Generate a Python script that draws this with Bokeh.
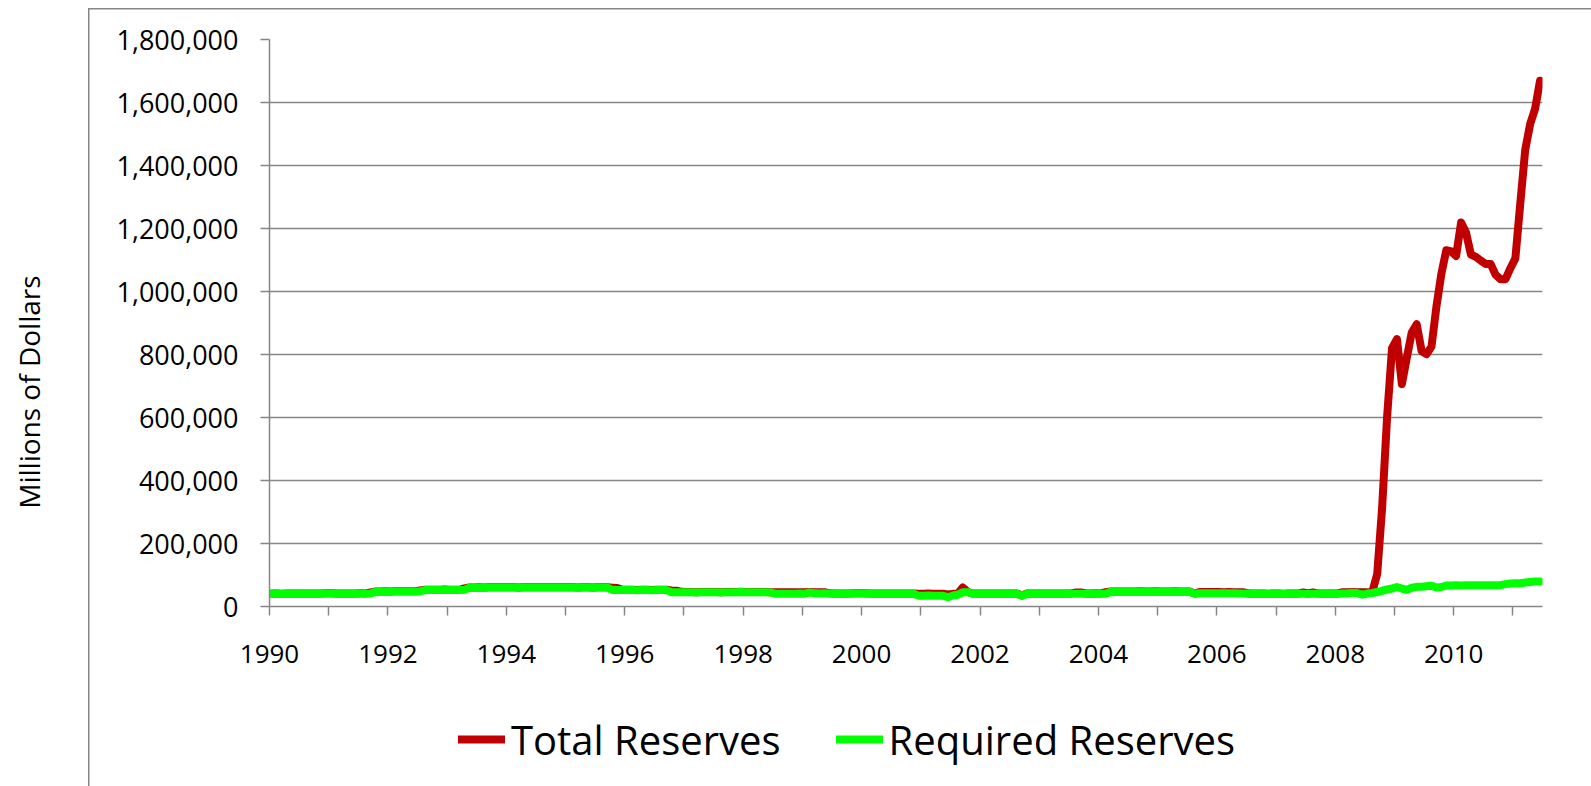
from bokeh.plotting import figure
from bokeh.layouts import column
from bokeh.models import Range1d, FixedTicker, NumeralTickFormatter, Legend, LegendItem
from bokeh.embed import file_html
from bokeh.resources import INLINE

# ---------------- data (millions of dollars, monthly Jan 1990 - Jun 2011) ----------------
start_year = 1990
tick_years = list(range(1990, 2012))
labeled_years = list(range(1990, 2011, 2))
y_ticks = [0, 200000, 400000, 600000, 800000, 1000000, 1200000, 1400000, 1600000, 1800000]
series_names = ["Total Reserves", "Required Reserves"]
series_colors = ["#C00000", "#00FF00"]
y_axis_title = "Millions of Dollars"

total_reserves = [
    41000, 41100, 40800, 41000, 40900, 41200, 41100, 40900, 41300, 41400, 41600, 42000,  # 1990
    41700, 41300, 41100, 41400, 41200, 41600, 41700, 41500, 45000, 47700, 48000, 48200,  # 1991
    48000, 48300, 48100, 48500, 48200, 48600, 51000, 52900, 53100, 52800, 53300, 53600,  # 1992
    53200, 53400, 53100, 57500, 60400, 60700, 60900, 60600, 61000, 61200, 60900, 61500,  # 1993
    61100, 60800, 60600, 61200, 61000, 60800, 61300, 61100, 60900, 61200, 61000, 61600,  # 1994
    61300, 60900, 60700, 61100, 61000, 60600, 60900, 61100, 60800, 59600, 58600, 53400,  # 1995
    53100, 52800, 52500, 53000, 52800, 52600, 52800, 53100, 52900, 51000, 50200, 46500,  # 1996
    46100, 45800, 45600, 46000, 45800, 46200, 45900, 45600, 46000, 46100, 45800, 46500,  # 1997
    46000, 45700, 45900, 46100, 45800, 45500, 45300, 45100, 45000, 45300, 45100, 45500,  # 1998
    45200, 46000, 45600, 45400, 45300, 41700, 41400, 41600, 41300, 41500, 41700, 42200,  # 1999
    41700, 41400, 41200, 41500, 41300, 41100, 41400, 41600, 41300, 41200, 41400, 40800,  # 2000
    40600, 40900, 40500, 40800, 40400, 38000, 40200, 40300, 60000, 46500, 41300, 41100,  # 2001
    41200, 41000, 41400, 41100, 41300, 40900, 41200, 41000, 34800, 41100, 41400, 41200,  # 2002
    41300, 41000, 41200, 41500, 41100, 41400, 41600, 44800, 44500, 41200, 41400, 41700,  # 2003
    41500, 45500, 47600, 47900, 47700, 48000, 47800, 47600, 48100, 47900, 47700, 48200,  # 2004
    47900, 47600, 47800, 48100, 47700, 48000, 47400, 41000, 45800, 45900, 46100, 45800,  # 2005
    45700, 45600, 45900, 45500, 45400, 45200, 41100, 40900, 41200, 41000, 40800, 41300,  # 2006
    41100, 40800, 41000, 41200, 40900, 44800, 41500, 44600, 41000, 41200, 40900, 41400,  # 2007
    41600, 45200, 45500, 45800, 45300, 45000, 45400, 46000, 103000, 315000, 600000, 820000,  # 2008
    849000, 706000, 790000, 870000, 896000, 811000, 801000, 825000, 952000, 1056000, 1131000, 1127000,  # 2009
    1113000, 1219000, 1187000, 1117000, 1110000, 1098000, 1087000, 1087000, 1053000, 1039000, 1039000, 1074000,  # 2010
    1105000, 1280000, 1450000, 1532000, 1580000, 1669000,  # 2011
]

required_reserves = [
    40100, 40300, 39900, 40200, 40000, 40400, 40300, 40100, 40500, 40600, 40800, 41200,  # 1990
    40900, 40500, 40300, 40600, 40400, 40800, 40900, 40700, 41100, 46900, 47200, 47400,  # 1991
    47200, 47500, 47300, 47700, 47400, 47800, 48000, 52100, 52300, 52000, 52500, 52800,  # 1992
    52400, 52600, 52300, 52900, 59600, 59900, 60100, 59800, 60200, 60400, 60100, 60700,  # 1993
    60300, 60000, 59800, 60400, 60200, 60000, 60500, 60300, 60100, 60400, 60200, 60800,  # 1994
    60500, 60100, 59900, 60300, 60200, 59800, 60100, 60300, 60000, 52400, 52100, 52600,  # 1995
    52300, 52000, 51700, 52200, 52000, 51800, 52000, 52300, 52100, 45400, 45100, 45600,  # 1996
    45300, 45000, 44800, 45200, 45000, 45400, 45100, 44800, 45200, 45300, 45000, 45700,  # 1997
    45200, 44900, 45100, 45300, 45000, 44700, 40800, 40500, 40300, 40600, 40400, 40900,  # 1998
    40700, 44800, 41800, 41500, 41700, 40900, 40600, 40800, 40500, 40700, 40900, 41400,  # 1999
    40900, 40600, 40400, 40700, 40500, 40300, 40600, 40800, 40500, 40400, 40600, 34500,  # 2000
    34300, 34600, 34200, 34500, 34000, 29500, 34800, 37500, 45000, 45500, 40500, 40300,  # 2001
    40400, 40200, 40600, 40300, 40500, 40100, 40400, 40200, 34000, 40300, 40600, 40400,  # 2002
    40500, 40200, 40400, 40700, 40300, 40600, 40800, 40500, 40700, 40400, 40600, 40900,  # 2003
    40700, 40500, 46800, 47100, 46900, 47200, 47000, 46800, 47300, 47100, 46900, 47400,  # 2004
    47100, 46800, 47000, 47300, 46900, 47200, 46600, 40200, 42300, 42100, 42400, 42200,  # 2005
    42000, 41800, 42100, 41700, 41500, 41200, 40300, 40100, 40400, 40200, 40000, 40500,  # 2006
    40300, 40000, 40200, 40400, 40100, 40300, 40000, 40500, 40200, 40400, 40100, 40600,  # 2007
    40800, 41000, 41200, 44000, 42000, 37500, 41000, 43000, 46000, 50000, 54000, 57000,  # 2008
    62000, 57000, 52500, 59500, 62500, 63000, 64500, 66000, 60000, 62000, 66500, 67000,  # 2009
    67200, 67000, 67300, 67100, 67400, 67200, 67500, 67300, 67600, 67800, 71000, 73000,  # 2010
    73500, 74000, 76000, 78000, 79000, 79500,  # 2011
]

# month positions (middle of each month, in decimal years)
months = list(range(len(total_reserves)))
x_dates = [start_year + (m + 0.5) / 12 for m in months]
x_end = start_year + len(months) / 12

# ---------------- main chart ----------------
FONT = "Open Sans"
GRAY = "#868686"
NBSP = "\u00a0"
W, H_MAIN, H_LEG = 1591, 686, 100

p = figure(width=W, height=H_MAIN, output_backend="svg", toolbar_location=None,
           x_range=Range1d(start_year, x_end), y_range=Range1d(y_ticks[0], y_ticks[-1]),
           min_border_left=269, min_border_right=49, min_border_top=39, min_border_bottom=80)
p.border_fill_color = None
p.background_fill_color = "white"
p.outline_line_color = None

# outer chart-area border (only its left and top edges are inside the picture)
p.styles = {
    "background-color": "white",
    "background-image": f"linear-gradient({GRAY}, {GRAY}), linear-gradient({GRAY}, {GRAY})",
    "background-size": "1.5px 100%, 100% 1.5px",
    "background-position": "88px 8px, 88px 8px",
    "background-repeat": "no-repeat",
}

p.line(x_dates, total_reserves, line_color=series_colors[0], line_width=8,
       line_cap="round", line_join="round")
p.line(x_dates, required_reserves, line_color=series_colors[1], line_width=8,
       line_cap="round", line_join="round")

# x axis
xa = p.xaxis[0]
xa.ticker = FixedTicker(ticks=tick_years, minor_ticks=[])
xa.major_label_overrides = {y: (str(y) if y in labeled_years else "") for y in tick_years}
xa.major_label_text_font = FONT
xa.major_label_text_font_size = "26px"
xa.major_label_text_color = "black"
xa.major_label_standoff = 29
xa.major_tick_in = 0
xa.major_tick_out = 9
xa.minor_tick_in = 0
xa.minor_tick_out = 0
xa.axis_line_color = GRAY
xa.axis_line_width = 1.5
xa.major_tick_line_color = GRAY
xa.major_tick_line_width = 1.5

# y axis
ya = p.yaxis[0]
ya.ticker = FixedTicker(ticks=y_ticks, minor_ticks=[])
ya.formatter = NumeralTickFormatter(format="0,0")
ya.major_label_text_font = FONT
ya.major_label_text_font_size = "27px"
ya.major_label_text_color = "black"
ya.major_label_standoff = 22
ya.major_tick_in = 0
ya.major_tick_out = 9
ya.minor_tick_in = 0
ya.minor_tick_out = 0
ya.axis_line_color = GRAY
ya.axis_line_width = 1.5
ya.major_tick_line_color = GRAY
ya.major_tick_line_width = 1.5
# the title sits below the frame's middle in the reference: pad its end with no-break spaces
ya.axis_label = y_axis_title + NBSP * 19
ya.axis_label_text_font = FONT
ya.axis_label_text_font_size = "28px"
ya.axis_label_text_font_style = "normal"
ya.axis_label_text_color = "black"
ya.axis_label_standoff = 65

p.xgrid.visible = False
p.ygrid.grid_line_color = GRAY
p.ygrid.grid_line_width = 1.5

# ---------------- legend strip under the chart ----------------
pl = figure(width=W, height=H_LEG, output_backend="svg", toolbar_location=None,
            x_range=Range1d(start_year, x_end), y_range=Range1d(y_ticks[0], y_ticks[-1]),
            x_axis_location=None, y_axis_location=None,
            min_border_left=0, min_border_right=0, min_border_top=0, min_border_bottom=0)
pl.xgrid.visible = False
pl.ygrid.visible = False
pl.outline_line_color = None
pl.background_fill_color = None
pl.border_fill_color = None
pl.styles = {
    "background-color": "white",
    "background-image": f"linear-gradient({GRAY}, {GRAY})",
    "background-size": "1.5px 100%",
    "background-position": "88px 0px",
    "background-repeat": "no-repeat",
}
# legend keys: same series, hidden here (they are drawn in the chart above)
k_total = pl.line(x_dates, total_reserves, line_color=series_colors[0], line_width=8,
                  line_cap="round", visible=False)
k_req = pl.line(x_dates, required_reserves, line_color=series_colors[1], line_width=8,
                line_cap="round", visible=False)

legend = Legend(items=[LegendItem(label=series_names[0], renderers=[k_total]),
                       LegendItem(label=series_names[1], renderers=[k_req])],
                location=(189, 17), orientation="horizontal", click_policy="none",
                padding=0, margin=0, spacing=55, glyph_width=47, glyph_height=60,
                label_height=60, label_standoff=6,
                label_text_font=FONT, label_text_font_size="40px", label_text_color="black",
                border_line_color=None, background_fill_alpha=0)
pl.add_layout(legend)

layout = column(p, pl, spacing=0)
open("out.html", "w").write(file_html(layout, INLINE))
